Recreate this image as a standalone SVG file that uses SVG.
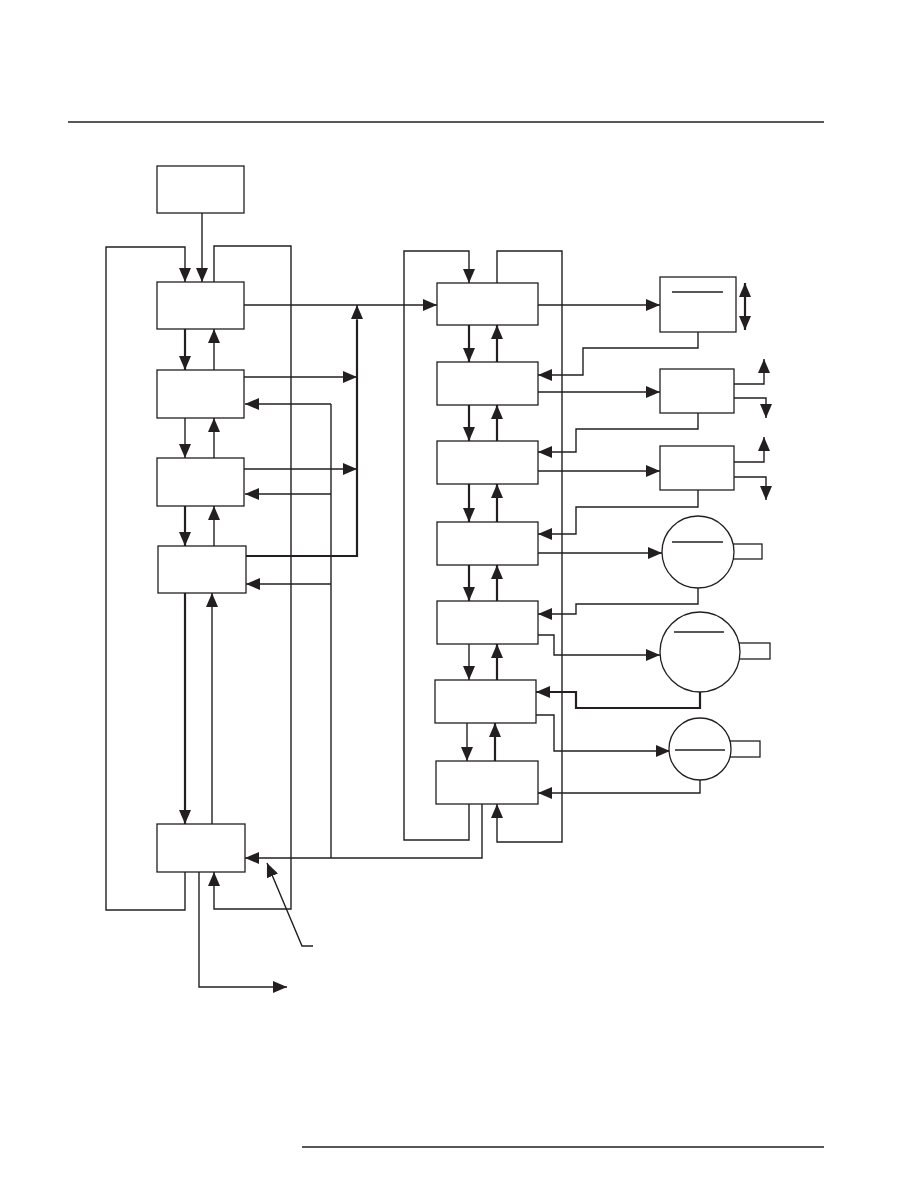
<svg xmlns="http://www.w3.org/2000/svg" width="918" height="1188" viewBox="0 0 918 1188">
<style>
.n{fill:#fff;stroke:#231f20;stroke-width:1.3}
.c{fill:none;stroke:#231f20;stroke-width:1.4}
.t{fill:none;stroke:#231f20;stroke-width:2.2}
.a{marker-end:url(#ah)}
.ln{stroke:#231f20;stroke-width:1.3}
.rule{stroke:#231f20;stroke-width:1.4}
</style>
<defs>
<marker id="ah" viewBox="0 0 14 12" refX="14" refY="6" markerWidth="14" markerHeight="12" orient="auto-start-reverse" markerUnits="userSpaceOnUse"><path d="M0,0 L14,6 L0,12 z" fill="#231f20"/></marker>
</defs>
<rect width="918" height="1188" fill="#fff"/>
<line class="rule" x1="68" y1="122" x2="824" y2="122"/>
<line class="rule" x1="302" y1="1147" x2="824" y2="1147"/>

<g id="connectors">
<path class="c a" d="M202,213 V282"/>
<path class="c a" d="M185,872 V910 H106 V247 H185 V282"/>
<path class="c a" d="M214,282 V246 H291 V909 H214 V872"/>
<path class="c a" d="M244,305 H437"/>
<path class="t" d="M246,556 H357 V320"/>
<path class="c a" d="M357,330 V305"/>
<path class="c a" d="M244,377 H357"/>
<path class="c a" d="M244,469 H357"/>
<path class="c a" d="M482,804 V858 H245"/>
<path class="c" d="M331,858 V404"/>
<path class="c a" d="M331,404 H245"/>
<path class="c a" d="M331,494 H245"/>
<path class="c a" d="M331,584 H246"/>
<path class="t a" d="M185,329 V370"/>
<path class="c a" d="M214,370 V329"/>
<path class="c a" d="M185,418 V458"/>
<path class="c a" d="M214,458 V418"/>
<path class="t a" d="M185,506 V546"/>
<path class="c a" d="M214,546 V506"/>
<path class="t a" d="M185,593 V824"/>
<path class="c a" d="M212,824 V593"/>
<path class="c a" d="M313,946 H302 L267,863"/>
<path class="c a" d="M199,872 V987 H287"/>
<path class="c a" d="M469,804 V840 H404 V251 H469 V283"/>
<path class="c a" d="M497,283 V251 H562 V842 H497 V804"/>
<path class="t a" d="M469,325 V362"/>
<path class="t a" d="M497,362 V325"/>
<path class="t a" d="M469,405 V441"/>
<path class="t a" d="M497,441 V405"/>
<path class="t a" d="M469,484 V522"/>
<path class="t a" d="M497,522 V484"/>
<path class="t a" d="M469,565 V601"/>
<path class="t a" d="M497,601 V565"/>
<path class="c a" d="M469,644 V680"/>
<path class="t a" d="M497,680 V644"/>
<path class="c a" d="M467,723 V761"/>
<path class="t a" d="M495,761 V723"/>
<path class="c a" d="M538,305 H660"/>
<path class="c a" d="M698,332 V348 H583 V375 H538"/>
<path class="c a" d="M538,392 H660"/>
<path class="c a" d="M698,413 V429 H576 V452 H538"/>
<path class="c a" d="M538,471 H660"/>
<path class="c a" d="M698,490 V507 H576 V534 H538"/>
<path class="c a" d="M538,553 H662"/>
<path class="c a" d="M698,588 V604 H576 V614 H538"/>
<path class="c a" d="M538,635 H554 V655 H660"/>
<path class="t a" d="M700,692 V708 H576 V692 H536"/>
<path class="c a" d="M536,715 H554 V751 H670"/>
<path class="c a" d="M700,780 V793 H538"/>
<path class="c a" d="M734,384 H764 V359"/>
<path class="c a" d="M734,398 H766 V418"/>
<path class="c a" d="M734,462 H764 V437"/>
<path class="c a" d="M734,477 H766 V500"/>
<path class="t a" d="M745,283 V330" marker-start="url(#ah)"/>
</g>

<g id="nodeA"><rect class="n" x="157" y="166" width="87" height="47"/></g>
<g id="node1"><rect class="n" x="157" y="282" width="87" height="47"/></g>
<g id="node2"><rect class="n" x="157" y="370" width="87" height="48"/></g>
<g id="node3"><rect class="n" x="157" y="458" width="87" height="48"/></g>
<g id="node4"><rect class="n" x="158" y="546" width="88" height="47"/></g>
<g id="node5"><rect class="n" x="157" y="824" width="88" height="48"/></g>

<g id="nodeB1"><rect class="n" x="437" y="283" width="101" height="42"/></g>
<g id="nodeB2"><rect class="n" x="437" y="362" width="101" height="43"/></g>
<g id="nodeB3"><rect class="n" x="437" y="441" width="101" height="43"/></g>
<g id="nodeB4"><rect class="n" x="437" y="522" width="101" height="43"/></g>
<g id="nodeB5"><rect class="n" x="437" y="601" width="101" height="43"/></g>
<g id="nodeB6"><rect class="n" x="435" y="680" width="101" height="43"/></g>
<g id="nodeB7"><rect class="n" x="436" y="761" width="102" height="43"/></g>

<g id="nodeC1"><rect class="n" x="660" y="277" width="76" height="55"/><line class="ln" x1="672" y1="292" x2="723" y2="292"/></g>
<g id="nodeC2"><rect class="n" x="660" y="369" width="74" height="44"/></g>
<g id="nodeC3"><rect class="n" x="660" y="446" width="74" height="44"/></g>

<g id="nodeD1"><rect class="n" x="733" y="544" width="29" height="15"/><circle class="n" cx="698" cy="552" r="36"/><line class="ln" x1="672" y1="542" x2="723" y2="542"/></g>
<g id="nodeD2"><rect class="n" x="739" y="643" width="31" height="16"/><circle class="n" cx="700" cy="652" r="40"/><line class="ln" x1="674" y1="632" x2="724" y2="632"/></g>
<g id="nodeD3"><rect class="n" x="730" y="741" width="30" height="16"/><circle class="n" cx="700" cy="749" r="31"/><line class="ln" x1="675" y1="750" x2="725" y2="750"/></g>
</svg>
